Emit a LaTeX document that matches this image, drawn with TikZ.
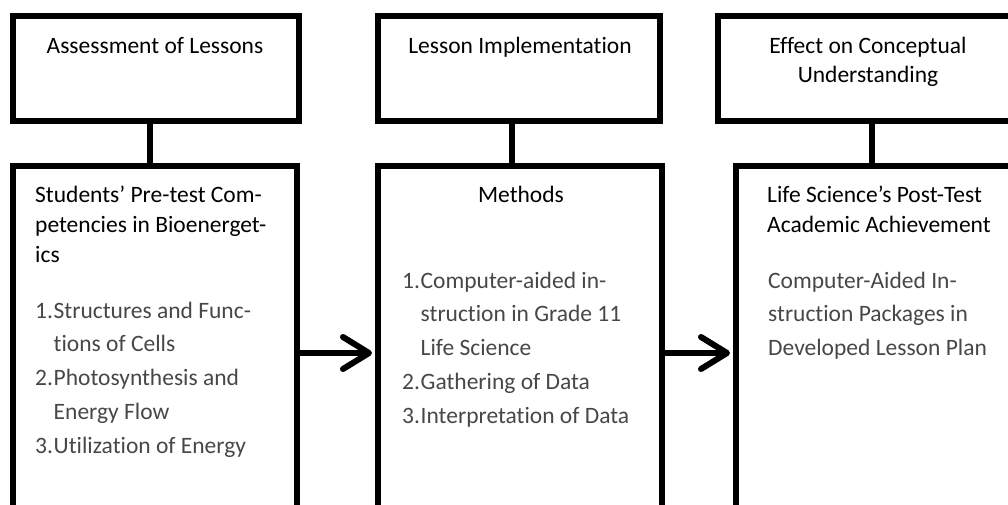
\documentclass[tikz,border=0pt]{standalone}
\usepackage{fontspec}
\setmainfont[Ligatures=NoCommon]{Carlito}
\usetikzlibrary{arrows.meta,positioning}
\newcommand{\inum}[1]{\makebox[18.5pt][l]{#1}}
\newcommand{\iskip}{\hspace*{18.5pt}}

\begin{document}
\begin{tikzpicture}[x=1pt, y=-1pt,
    box/.style={rectangle, draw=black, line width=6pt, minimum width=284pt, inner sep=0pt},
    topbox/.style={box, minimum height=105pt},
    lowbox/.style={box, minimum height=400pt},
    title/.style={inner sep=0pt, align=center, font=\fontsize{23.5}{29}\selectfont},
    head/.style={inner sep=0pt, align=left, font=\fontsize{23.5}{30}\selectfont},
    body/.style={inner sep=0pt, align=left, text=black!72, font=\fontsize{23.5}{33.75}\selectfont},
    link/.style={line width=5.5pt},
    arrow/.style={line width=6pt, shorten >=3pt, -{Straight Barb[length=26pt, width=32pt, round]}}
]
\useasboundingbox (0,0) rectangle (1008,504);
\clip (0,0) rectangle (1008,504);

% boxes
\node[topbox, minimum width=286pt] (assess) at (156,68.5) {};
\node[topbox, minimum width=282pt] (implem) at (519,68.5) {};
\node[topbox, minimum width=308pt] (effect) at (872,68.5) {};
\node[lowbox] (compet) at (155,366) {};
\node[lowbox] (methods) at (520,366) {};
\node[lowbox] (achieve) at (878,366) {};

% links and arrows
\draw[link] ([xshift=-6pt]assess.south) -- ([xshift=-6pt]assess.south |- compet.north);
\draw[link] ([xshift=-7pt]implem.south) -- ([xshift=-7pt]implem.south |- methods.north);
\draw[link] (effect.south) -- (effect.south |- achieve.north);
\draw[arrow] ([yshift=13pt]compet.east) -- ([yshift=13pt]compet.east -| methods.west);
\draw[arrow] ([yshift=13pt]methods.east) -- ([yshift=13pt]methods.east -| achieve.west);

% texts (base = last line)
\node[title, anchor=base] (assess-txt) at (155,53) {Assessment of Lessons};
\node[title, anchor=base] (implem-txt) at (520,53) {Lesson Implementation};
\node[title, anchor=base] (effect-txt) at (868,82) {Effect on Conceptual\\Understanding};
\node[head, anchor=base west] (compet-head) at (35,262) {Students’ Pre-test Com-\\petencies in Bioenerget-\\ics};
\node[body, anchor=base west] (compet-list) at (35,453) {\inum{1.}Structures and Func-\\\iskip tions of Cells\\\inum{2.}Photosynthesis and\\\iskip Energy Flow\\\inum{3.}Utilization of Energy};
\node[title, anchor=base] (methods-head) at (521,202) {Methods};
\node[body, anchor=base west] (methods-list) at (402,423) {\inum{1.}Computer-aided in-\\\iskip struction in Grade 11\\\iskip Life Science\\\inum{2.}Gathering of Data\\\inum{3.}Interpretation of Data};
\node[head, anchor=base west] (achieve-head) at (767,232) {Life Science’s Post-Test\\Academic Achievement};
\node[body, anchor=base west] (achieve-body) at (768,355.5) {Computer-Aided In-\\struction Packages in\\Developed Lesson Plan};
\end{tikzpicture}
\end{document}
